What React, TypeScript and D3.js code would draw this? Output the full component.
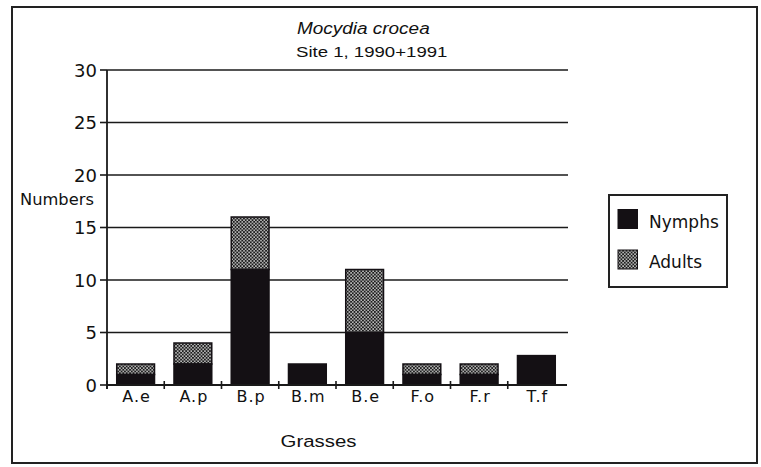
import React from "react";
import * as d3 from "d3";

const categories = ["A.e", "A.p", "B.p", "B.m", "B.e", "F.o", "F.r", "T.f"];
const nymphs = [1, 2, 11, 2, 5, 1, 1, 2.8];
const adults = [1, 2, 5, 0, 6, 1, 1, 0];
const yTicks = [0, 5, 10, 15, 20, 25, 30];
const seriesNames = ["Nymphs", "Adults"];

const W = 761;
const H = 467;
const X0 = 107;
const X1 = 565;
const Y0 = 385;
const Y1 = 70;

export default function App() {
  const x = d3.scaleBand<string>().domain(categories).range([X0, X1]).paddingInner(0.34).paddingOuter(0.17);
  const y = d3.scaleLinear().domain([0, 30]).range([Y0, Y1]);
  const step = x.step();
  const dark = "#141014";
  const txt = "#111";
  const geo = "'DejaVu Sans', sans-serif";
  const hel = "'Liberation Sans', Arial, sans-serif";

  return (
    <svg width={W} height={H} style={{ position: "absolute", left: 0, top: 0, background: "#fff" }}>
      <defs>
        <pattern id="chk" width="3.4" height="3.4" patternUnits="userSpaceOnUse">
          <rect width="3.4" height="3.4" fill="#1c1c1c" />
          <rect x="0.2" y="0.2" width="1.4" height="1.4" fill="#f2f2f2" />
          <rect x="1.9" y="1.9" width="1.4" height="1.4" fill="#f2f2f2" />
        </pattern>
      </defs>
      <rect x={12} y={7} width={745} height={456} fill="#fff" stroke="#222" strokeWidth={2} />

      {/* title */}
      <g transform="translate(297,34) scale(1.2,1)">
        <text x={0} y={0} fontFamily={hel} fontSize={15.8} fontStyle="italic" fill={txt}>Mocydia crocea</text>
      </g>
      <g transform="translate(296,57) scale(1.2,1)">
        <text x={0} y={0} fontFamily={hel} fontSize={15.5} fill={txt}>Site 1, 1990+1991</text>
      </g>

      {/* gridlines */}
      {yTicks.filter((t) => t > 0).map((t) => (
        <line key={t} x1={X0} x2={568} y1={y(t)} y2={y(t)} stroke="#1a1a1a" strokeWidth={1.6} />
      ))}
      {/* y axis ticks + labels */}
      {yTicks.map((t) => (
        <g key={"yt" + t}>
          <line x1={100} x2={X0} y1={y(t)} y2={y(t)} stroke="#1a1a1a" strokeWidth={1.6} />
          <text x={97} y={y(t) + 6.5} textAnchor="end" fontFamily={geo} fontSize={18} fill={txt}>{t}</text>
        </g>
      ))}
      <text x={20} y={205} fontFamily={geo} fontSize={16.3} fill={txt}>Numbers</text>

      {/* bars */}
      {categories.map((c, i) => {
        const bx = x(c)!;
        const bw = x.bandwidth();
        const n = nymphs[i];
        const a = adults[i];
        return (
          <g key={c}>
            {a > 0 && (
              <rect x={bx} y={y(n + a)} width={bw} height={y(n) - y(n + a)} fill="url(#chk)" stroke={dark} strokeWidth={1.5} />
            )}
            <rect x={bx} y={y(n)} width={bw} height={y(0) - y(n)} fill={dark} stroke={dark} strokeWidth={1.5} />
          </g>
        );
      })}

      {/* axes */}
      <line x1={X0} x2={X0} y1={Y1} y2={Y0 + 4} stroke="#1a1a1a" strokeWidth={1.8} />
      <line x1={X0} x2={567} y1={Y0} y2={Y0} stroke="#1a1a1a" strokeWidth={1.8} />
      {categories.map((c, i) => (
        <line key={"xt" + c} x1={X0 + i * step} x2={X0 + i * step} y1={Y0 - 4} y2={Y0 + 4} stroke="#1a1a1a" strokeWidth={1.6} />
      ))}
      {categories.map((c) => (
        <text key={"xl" + c} x={x(c)! + x.bandwidth() / 2 + 1} y={402} textAnchor="middle" fontFamily={geo} fontSize={16} letterSpacing={1} fill={txt}>{c}</text>
      ))}
      <g transform="translate(318.5,447) scale(1.2,1)">
        <text x={0} y={0} textAnchor="middle" fontFamily={hel} fontSize={17} fill={txt}>Grasses</text>
      </g>

      {/* legend */}
      <rect x={609} y={195} width={118} height={92} fill="#fff" stroke="#222" strokeWidth={2} />
      {seriesNames.map((s, i) => (
        <g key={s}>
          <rect x={618} y={209.5 + i * 40.5} width={19.5} height={19} fill={i === 0 ? dark : "url(#chk)"} stroke={dark} strokeWidth={1} />
          <text x={649} y={227.5 + i * 40.5} fontFamily={geo} fontSize={17} fill={txt}>{s}</text>
        </g>
      ))}
    </svg>
  );
}
